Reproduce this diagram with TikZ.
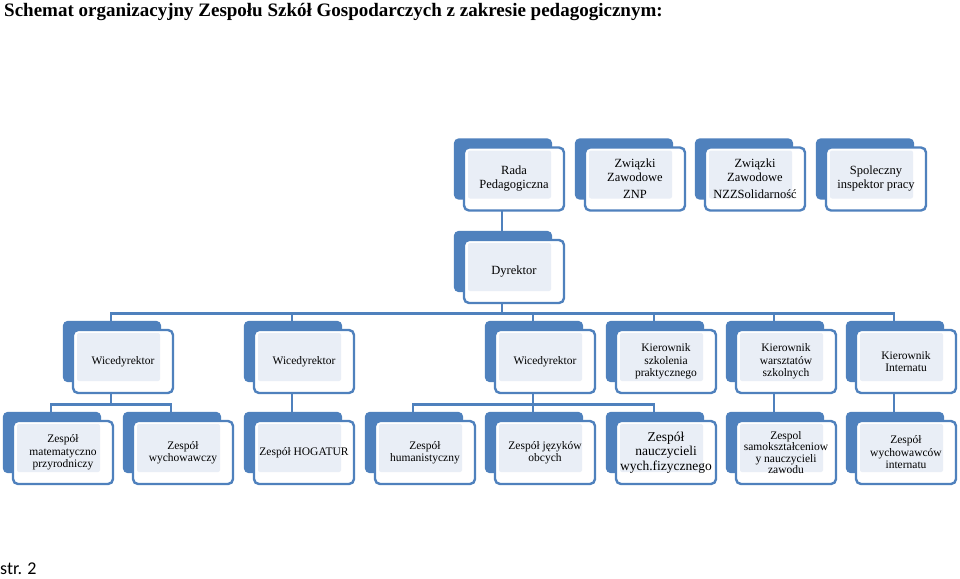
\documentclass[tikz,border=0pt]{standalone}
\usepackage{fontspec}
\setmainfont{Liberation Serif}
\newfontfamily\footfont{Carlito}
\usetikzlibrary{backgrounds}
\definecolor{orgblue}{RGB}{79,129,189}
\definecolor{orglight}{RGB}{233,238,246}

\begin{document}
\begin{tikzpicture}[
  x=1pt, y=-1pt,
  unit/.style={rectangle, draw=orgblue, line width=2.4pt, rounded corners=5pt, fill=white,
    minimum width=100pt, minimum height=63pt, inner sep=1pt, align=center,
    font=\fontsize{11.5}{12.5}\selectfont,
    path picture={\fill[orglight, rounded corners=2pt]
      ([shift={(4pt,-3pt)}]path picture bounding box.north west) rectangle
      ([shift={(-13pt,12pt)}]path picture bounding box.south east);}},
  big/.style={font=\fontsize{12.5}{14}\selectfont},
  link/.style={draw=orgblue, line width=2.8pt},
  back/.style={fill=orgblue, rounded corners=5pt}
]
  \useasboundingbox (0,0) rectangle (960,578);

  \node[anchor=west, inner sep=0pt, font=\bfseries\fontsize{19}{22}\selectfont] (title) at (4,12)
    {Schemat organizacyjny Zespołu Szkół Gospodarczych z zakresie pedagogicznym:};
  \node[anchor=west, inner sep=0pt, font=\footfont\fontsize{18}{20}\selectfont] (page) at (0,569) {str. 2};

  % top row
  \node[unit, big] (rada) at (514,179) {Rada\\Pedagogiczna};
  \node[unit, big] (znp) at (635,179) {Związki\\Zawodowe\\[3pt]ZNP};
  \node[unit, big] (nzz) at (755,179) {Związki\\Zawodowe\\[3pt]NZZSolidarność};
  \node[unit, big] (insp) at (876,179) {Spoleczny\\inspektor pracy};

  \node[unit, big] (dyr) at (514,271.5) {Dyrektor};

  % second level
  \node[unit] (w1) at (123,361.5) {Wicedyrektor};
  \node[unit] (w2) at (304,361.5) {Wicedyrektor};
  \node[unit] (w3) at (545,361.5) {Wicedyrektor};
  \node[unit] (ks) at (666,361.5) {Kierownik\\szkolenia\\praktycznego};
  \node[unit] (kw) at (786,361.5) {Kierownik\\warsztatów\\szkolnych};
  \node[unit] (ki) at (906,361.5) {Kierownik\\Internatu};

  % teams
  \node[unit] (z1) at (63,452.5) {Zespół\\matematyczno\\przyrodniczy};
  \node[unit] (z2) at (183,452.5) {Zespół\\wychowawczy};
  \node[unit] (z3) at (304,452.5) {Zespół HOGATUR};
  \node[unit] (z4) at (425,452.5) {Zespół\\humanistyczny};
  \node[unit] (z5) at (545,452.5) {Zespół języków\\obcych};
  \node[unit, font=\fontsize{13.5}{14.5}\selectfont] (z6) at (666,452.5) {Zespół\\nauczycieli\\wych.fizycznego};
  \node[unit, font=\fontsize{11.5}{11.5}\selectfont] (z7) at (786,452.5) {Zespol\\samokształceniow\\y nauczycieli\\zawodu};
  \node[unit] (z8) at (906,452.5) {Zespół\\wychowawców\\internatu};

  \coordinate (dyrout) at ([xshift=-12pt,yshift=-9pt]dyr.south);
  \coordinate (w1out) at ([xshift=-12pt,yshift=-10pt]w1.south);
  \coordinate (w3out) at ([xshift=-12pt,yshift=-10pt]w3.south);

  \begin{scope}[on background layer]
    \fill[white] (0,0) rectangle (960,578);
    \draw[link] ([xshift=-12pt]rada.center) -- ([xshift=-12pt]dyr.center);
    \draw[link] ([xshift=-12pt]dyr.center) -- (dyrout);
    \foreach \c in {w1,w2,w3,ks,kw,ki}
      \draw[link] (dyrout) -| ([xshift=-12pt]\c.center);
    \draw[link] ([xshift=-12pt]w1.center) -- (w1out);
    \foreach \c in {z1,z2}
      \draw[link] (w1out) -| ([xshift=-12pt]\c.center);
    \draw[link] ([xshift=-12pt]w2.center) -- ([xshift=-12pt]z3.center);
    \draw[link] ([xshift=-12pt]w3.center) -- (w3out);
    \foreach \c in {z4,z5,z6}
      \draw[link] (w3out) -| ([xshift=-12pt]\c.center);
    \draw[link] ([xshift=-12pt]kw.center) -- ([xshift=-12pt]z7.center);
    \draw[link] ([xshift=-12pt]ki.center) -- ([xshift=-12pt]z8.center);

    % blue cards behind the boxes
    \foreach \n in {rada,znp,nzz,insp,dyr,w1,w2,w3,ks,kw,ki,z1,z2,z3,z4,z5,z6,z7,z8}
      \fill[back] ([shift={(-9pt,8pt)}]\n.north west) rectangle ([shift={(-13pt,12pt)}]\n.south east);
  \end{scope}
\end{tikzpicture}
\end{document}
